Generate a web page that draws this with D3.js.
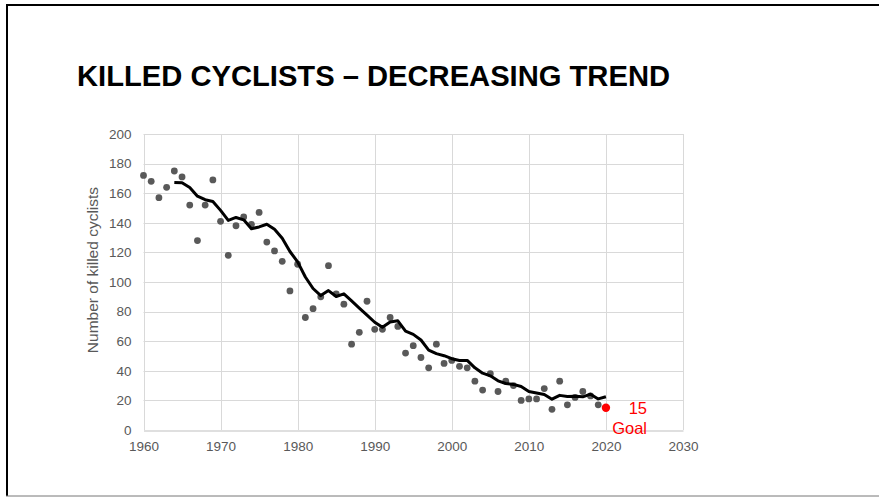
<!DOCTYPE html>
<html>
<head>
<meta charset="utf-8">
<script src="https://cdn.jsdelivr.net/npm/d3@7"></script>
<style>
  html, body { margin: 0; padding: 0; background: #fff; }
  svg { display: block; font-family: "Liberation Sans", Arial, sans-serif; }
</style>
</head>
<body>
<svg id="chart" width="879" height="497"></svg>
<script>
// yearly killed cyclists, 1960 - 2019
const years = d3.range(1960, 2020);
const killed = [172, 168, 157, 164, 175, 171, 152, 128, 152, 169,
    141, 118, 138, 144, 139, 147, 127, 121, 114, 94,
    112, 76, 82, 90, 111, 92, 85, 58, 66, 87,
    68, 68, 76, 70, 52, 57, 49, 42, 58, 45,
    47, 43, 42, 33, 27, 38, 26, 33, 30, 20,
    21, 21, 28, 14, 33, 17, 22, 26, 23, 17];

// moving average trend line as drawn, 1964 - 2020
const trendYears = d3.range(1964, 2021);
const trend = [167.2, 167.0, 163.8, 158.0, 155.6, 154.4, 148.4, 141.6, 143.6, 142.0,
    136.0, 137.2, 139.0, 135.6, 129.6, 120.6, 113.6, 103.4, 95.6, 90.8,
    94.2, 90.2, 92.0, 87.2, 82.4, 77.6, 72.8, 69.4, 73.0, 73.8,
    66.8, 64.6, 60.8, 54.0, 51.6, 50.2, 48.2, 47.0, 47.0, 42.0,
    38.4, 36.6, 33.2, 31.4, 30.8, 29.4, 26.0, 25.0, 24.0, 20.8,
    23.4, 22.6, 22.8, 22.4, 24.2, 21.0, 22.5];

const goalYear = 2020, goalValue = 15;

const xTicks = [1960, 1970, 1980, 1990, 2000, 2010, 2020, 2030];
const yTicks = [0, 20, 40, 60, 80, 100, 120, 140, 160, 180, 200];

const svg = d3.select('#chart');

// slide frame
svg.append('line').attr('x1', 6).attr('x2', 879).attr('y1', 5).attr('y2', 5)
    .attr('stroke', '#000').attr('stroke-width', 2);
svg.append('line').attr('x1', 7).attr('x2', 7).attr('y1', 4).attr('y2', 496)
    .attr('stroke', '#000').attr('stroke-width', 2);
svg.append('line').attr('x1', 6).attr('x2', 879).attr('y1', 496).attr('y2', 496)
    .attr('stroke', '#777').attr('stroke-width', 1);

svg.append('text')
    .attr('x', 77).attr('y', 86)
    .attr('font-size', 29).attr('font-weight', 'bold').attr('fill', '#000')
    .attr('textLength', 593).attr('lengthAdjust', 'spacingAndGlyphs')
    .text('KILLED CYCLISTS \u2013 DECREASING TREND');

const x = d3.scaleLinear().domain([1960, 2030]).range([143.5, 683]);
const y = d3.scaleLinear().domain([0, 200]).range([430, 134]);

const g = svg.append('g');

// grid
g.append('g')
    .selectAll('line.h')
    .data(yTicks.slice(1))
    .join('line')
    .attr('x1', x(1960)).attr('x2', x(2030))
    .attr('y1', d => Math.round(y(d)) + 0.5).attr('y2', d => Math.round(y(d)) + 0.5)
    .attr('stroke', '#d9d9d9');
g.append('g')
    .selectAll('line.v')
    .data(xTicks)
    .join('line')
    .attr('x1', d => Math.round(x(d)) + 0.5).attr('x2', d => Math.round(x(d)) + 0.5)
    .attr('y1', y(200)).attr('y2', y(0))
    .attr('stroke', '#d9d9d9');

// axes
const xAxis = g.append('g')
    .attr('transform', `translate(0,${Math.round(y(0)) + 0.5})`)
    .call(d3.axisBottom(x).tickValues(xTicks).tickFormat(d3.format('d')).tickSize(0).tickPadding(11));
xAxis.select('.domain').attr('stroke', '#bfbfbf');
xAxis.selectAll('text').attr('fill', '#595959').attr('font-size', 13.5)
    .attr('font-family', '"Liberation Sans", Arial, sans-serif');

const yAxis = g.append('g')
    .attr('transform', `translate(${x(1960) - 12},0)`)
    .call(d3.axisLeft(y).tickValues(yTicks).tickSize(0).tickPadding(0));
yAxis.select('.domain').remove();
yAxis.selectAll('text').attr('fill', '#595959').attr('font-size', 13.5)
    .attr('font-family', '"Liberation Sans", Arial, sans-serif');

svg.append('text')
    .attr('transform', 'translate(98,270) rotate(-90)')
    .attr('text-anchor', 'middle')
    .attr('font-size', 15.5).attr('fill', '#595959')
    .text('Number of killed cyclists');

// points
g.append('g')
    .selectAll('circle')
    .data(years)
    .join('circle')
    .attr('cx', (d, i) => x(d))
    .attr('cy', (d, i) => y(killed[i]))
    .attr('r', 3.4)
    .attr('fill', '#595959');

// trend
const line = d3.line()
    .x((d, i) => x(trendYears[i]))
    .y(d => y(d));
g.append('path')
    .datum(trend)
    .attr('d', line)
    .attr('fill', 'none')
    .attr('stroke', '#000')
    .attr('stroke-width', 3)
    .attr('stroke-linejoin', 'round');

// goal
g.append('circle')
    .attr('cx', x(goalYear)).attr('cy', y(goalValue))
    .attr('r', 4.2).attr('fill', '#ff0000');
g.append('text')
    .attr('x', 647).attr('y', 414)
    .attr('text-anchor', 'end').attr('font-size', 16.5).attr('fill', '#ff0000')
    .text(goalValue);
g.append('text')
    .attr('x', 647).attr('y', 434)
    .attr('text-anchor', 'end').attr('font-size', 16.5).attr('fill', '#ff0000')
    .text('Goal');
</script>
</body>
</html>
